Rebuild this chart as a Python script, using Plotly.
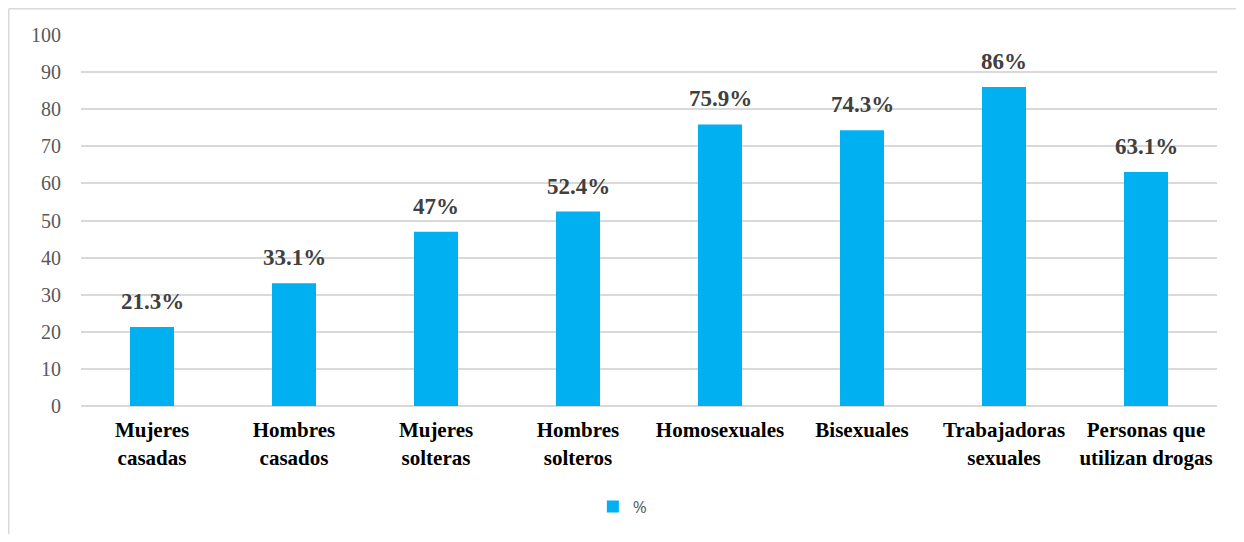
import plotly.graph_objects as go

categories = ["Mujeres<br>casadas", "Hombres<br>casados", "Mujeres<br>solteras", "Hombres<br>solteros",
              "Homosexuales", "Bisexuales", "Trabajadoras<br>sexuales", "Personas que<br>utilizan drogas"]
values = [21.3, 33.1, 47, 52.4, 75.9, 74.3, 86, 63.1]
labels = ["21.3%", "33.1%", "47%", "52.4%", "75.9%", "74.3%", "86%", "63.1%"]
tick_vals = [0, 10, 20, 30, 40, 50, 60, 70, 80, 90, 100]

fig = go.Figure()
fig.add_trace(go.Bar(
    x=categories, y=values, name="%",
    marker=dict(color="#00B0F0", line=dict(width=0)),
    width=0.31,
))

for c, v, t in zip(categories, values, labels):
    fig.add_annotation(x=c, y=v, text="<b>" + t + "</b>", showarrow=False,
                       yanchor="bottom", yshift=11,
                       font=dict(family="Liberation Serif", size=23, color="#404040"))

# the page has a body margin of 8px
W, H = 1228, 526
L, T = 73, 27
pw, ph = 1136, 371
R = W - L - pw
B = H - T - ph

bx = (0.75 - L) / pw          # left frame line, near figure left edge
by = 1 + (T - 0.75) / ph      # top frame line, near figure top edge

fig.update_layout(
    width=W, height=H,
    margin=dict(l=L, r=R, t=T, b=B, pad=0, autoexpand=False),
    plot_bgcolor="white", paper_bgcolor="white",
    showlegend=True,
    legend=dict(orientation="h", x=0.477, xanchor="center", y=-0.272, yanchor="middle",
                font=dict(family="Open Sans", size=17, color="#595959"),
                itemwidth=30),
    xaxis=dict(tickfont=dict(family="Liberation Serif", size=21, color="black"),
               tickprefix="<b>", ticksuffix="</b>", automargin=False,
               showgrid=False, showline=False, ticks="outside", ticklen=5, tickcolor="white"),
    yaxis=dict(range=[0, 100], tickvals=tick_vals, showgrid=True, gridcolor="#D9D9D9", gridwidth=1.5,
               zeroline=True, zerolinecolor="#D9D9D9", zerolinewidth=1.5, automargin=False,
               tickfont=dict(family="Liberation Serif", size=20, color="#595959"),
               ticks="outside", ticklen=15, tickcolor="white"),
    shapes=[
        dict(type="line", xref="paper", yref="paper",
             x0=bx, x1=1 + (R + 5) / pw, y0=by, y1=by,
             line=dict(color="#D9D9D9", width=1.5)),
        dict(type="line", xref="paper", yref="paper",
             x0=bx, x1=bx, y0=by, y1=-(B + 10) / ph,
             line=dict(color="#D9D9D9", width=1.5)),
    ],
)

fig.write_html("out.html")
